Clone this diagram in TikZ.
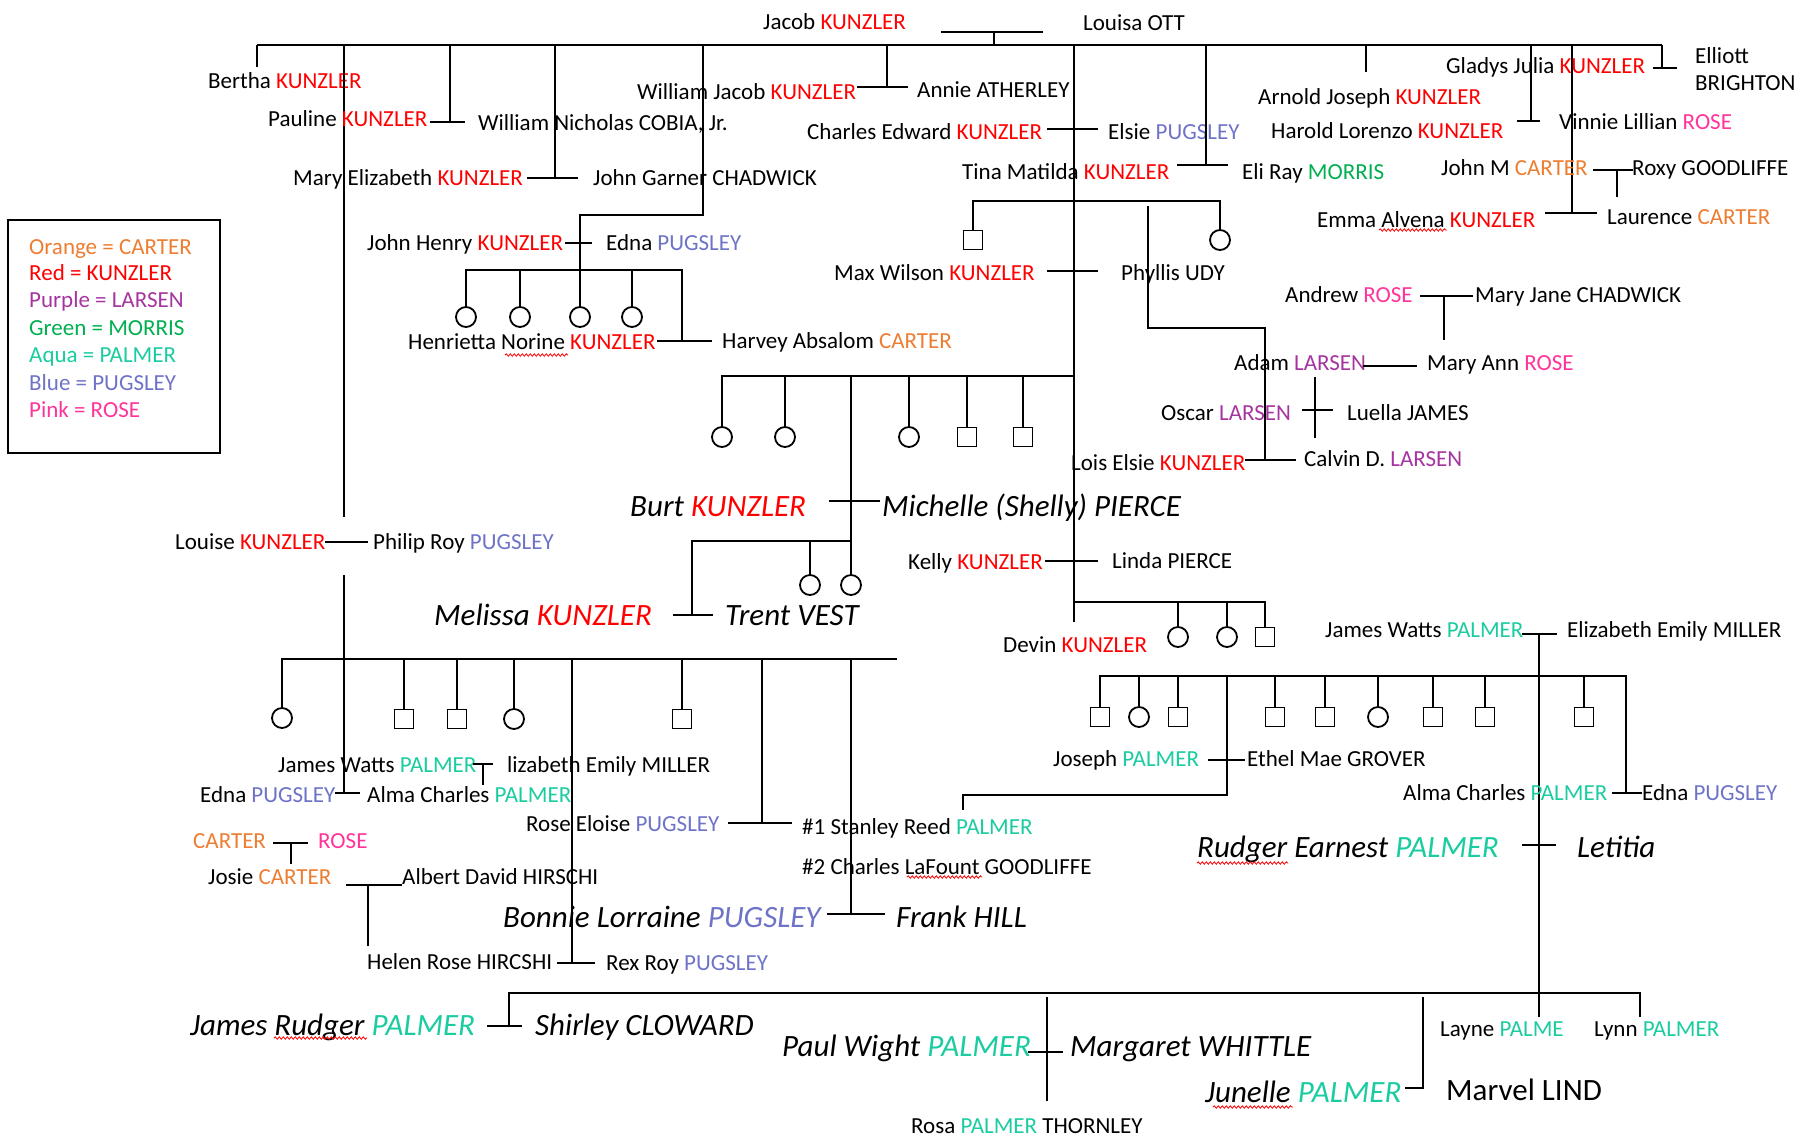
\documentclass[tikz,border=0pt]{standalone}
\usepackage{fontspec}
\setmainfont{Carlito}
\usetikzlibrary{decorations.pathmorphing}

\definecolor{kunzler}{RGB}{255,0,0}
\definecolor{carter}{RGB}{237,125,49}
\definecolor{larsen}{RGB}{166,52,160}
\definecolor{morris}{RGB}{0,176,80}
\definecolor{palmer}{RGB}{26,204,160}
\definecolor{pugsley}{RGB}{110,115,200}
\definecolor{rose}{RGB}{255,51,153}

\newcommand\KUN{\textcolor{kunzler}{KUNZLER}}
\newcommand\CAR{\textcolor{carter}{CARTER}}
\newcommand\LAR{\textcolor{larsen}{LARSEN}}
\newcommand\MOR{\textcolor{morris}{MORRIS}}
\newcommand\PAL{\textcolor{palmer}{PALMER}}
\newcommand\PUG{\textcolor{pugsley}{PUGSLEY}}
\newcommand\ROS{\textcolor{rose}{ROSE}}

\tikzset{
  person/.style={anchor=west, inner sep=0pt, font=\fontsize{23}{27}\selectfont,
    text height=14.8pt, text depth=0pt},
  bigperson/.style={person, font=\fontsize{31}{37}\selectfont\itshape, text height=20pt},
  plainbig/.style={person, font=\fontsize{31}{37}\selectfont, text height=20pt},
  girl/.style={circle, draw, line width=1.8pt, minimum size=20pt, inner sep=0pt},
  boy/.style={rectangle, draw, line width=1.8pt, minimum size=19pt, inner sep=0pt},
  tie/.style={line width=1.8pt},
  squiggle/.style={draw=red, line width=0.8pt, decorate,
    decoration={snake, amplitude=1.2pt, segment length=4pt}},
}

\begin{document}
\begin{tikzpicture}[x=1pt, y=-1pt]
\useasboundingbox (0,0) rectangle (1811,1136);

% key
\draw[tie] (8,220) rectangle (220,453);
\node[person] (keyorange) at (29,247) {\textcolor{carter}{Orange = CARTER}};
\node[person] (keyred) at (29,273) {\textcolor{kunzler}{Red = KUNZLER}};
\node[person] (keypurple) at (29,300) {\textcolor{larsen}{Purple = LARSEN}};
\node[person] (keygreen) at (29,328) {\textcolor{morris}{Green = MORRIS}};
\node[person] (keyaqua) at (29,355) {\textcolor{palmer}{Aqua = PALMER}};
\node[person] (keyblue) at (29,383) {\textcolor{pugsley}{Blue = PUGSLEY}};
\node[person] (keypink) at (29,410) {\textcolor{rose}{Pink = ROSE}};

% Jacob and Louisa
\node[person] (jacob) at (763,22) {Jacob \KUN};
\node[person] (louisa) at (1083,23) {Louisa OTT};
\draw[tie] (941,32) -- (1043,32) (994,32) -- (994,45);
\draw[tie] (257,45) -- (1662,45);

% their children
\node[person] (bertha) at (208,81) {Bertha \KUN};
\draw[tie] (257,45) -- (257,67);

\node[person] (louise) at (175,542) {Louise \KUN};
\node[person] (philip) at (373,542) {Philip Roy \PUG};
\draw[tie] (344,45) -- (344,517);
\draw[tie] (325,542) -- (368,542);
\draw[tie] (344,575) -- (344,793);

\node[person] (pauline) at (268,119) {Pauline \KUN};
\node[person] (cobia) at (478,123) {William Nicholas COBIA, Jr.};
\draw[tie] (450,45) -- (450,122) (430,122) -- (465,122);

\node[person] (maryeliz) at (293,178) {Mary Elizabeth \KUN};
\node[person] (chadwick) at (593,178) {John Garner CHADWICK};
\draw[tie] (555,45) -- (555,178) (527,178) -- (578,178);

\node[person] (johnhenry) at (367,243) {John Henry \KUN};
\node[person] (ednaA) at (606,243) {Edna \PUG};
\draw[tie] (565,243) -- (592,243);
\node[girl] (hs1) at (466,317) {};
\node[girl] (hs2) at (520,317) {};
\node[girl] (hs3) at (580,317) {};
\node[girl] (hs4) at (632,317) {};
\draw[tie] (703,45) -- (703,215) -- (580,215) -- (hs3.north);
\draw[tie] (hs1.north) -- (466,270) -- (682,270) -- (682,341);
\draw[tie] (520,270) -- (hs2.north) (632,270) -- (hs4.north);
\node[person] (henrietta) at (408,342) {Henrietta Norine \KUN};
\node[person] (harvey) at (722,341) {Harvey Absalom \CAR};
\draw[tie] (657,341) -- (712,341);

\node[person] (wjacob) at (637,92) {William Jacob \KUN};
\node[person] (annie) at (917,90) {Annie ATHERLEY};
\draw[tie] (887,45) -- (887,87) (857,87) -- (908,87);

\node[person] (charlesE) at (807,132) {Charles Edward \KUN};
\node[person] (elsie) at (1108,132) {Elsie \PUG};
\draw[tie] (1074,45) -- (1074,622);
\draw[tie] (1047,129) -- (1098,129);

\node[boy] (ms1) at (973,240) {};
\node[girl] (ms2) at (1220,240) {};
\draw[tie] (ms1.north) -- (973,201) -- (1220,201) -- (ms2.north);
\node[person] (maxw) at (834,273) {Max Wilson \KUN};
\node[person] (phyllis) at (1121,273) {Phyllis UDY};
\draw[tie] (1047,271) -- (1098,271);
\draw[tie] (1148,206) -- (1148,328) -- (1265,328) -- (1265,460);

\node[girl] (bs1) at (722,437) {};
\node[girl] (bs2) at (785,437) {};
\node[girl] (bs3) at (909,437) {};
\node[boy] (bs4) at (967,437) {};
\node[boy] (bs5) at (1023,437) {};
\draw[tie] (bs1.north) -- (722,376) -- (1074,376);
\draw[tie] (785,376) -- (bs2.north) (909,376) -- (bs3.north)
  (967,376) -- (bs4.north) (1023,376) -- (bs5.north);

\node[bigperson] (burt) at (630,506) {Burt \KUN};
\node[bigperson] (michelle) at (882,506) {Michelle (Shelly) PIERCE};
\draw[tie] (829,501) -- (880,501);
\node[girl] (ks1) at (810,585) {};
\node[girl] (ks2) at (851,585) {};
\draw[tie] (851,376) -- (ks2.north);
\draw[tie] (692,615) -- (692,541) -- (851,541) (810,541) -- (ks1.north);
\node[bigperson] (melissa) at (434,615) {Melissa \KUN};
\node[bigperson] (trent) at (725,615) {Trent VEST};
\draw[tie] (673,615) -- (713,615);

\node[person] (lois) at (1071,463) {Lois Elsie \KUN};
\node[person] (calvin) at (1304,459) {Calvin D. \LAR};
\draw[tie] (1245,460) -- (1296,460);

\node[person] (kelly) at (908,562) {Kelly \KUN};
\node[person] (linda) at (1112,561) {Linda PIERCE};
\draw[tie] (1045,561) -- (1098,561);

\node[girl] (ds1) at (1178,637) {};
\node[girl] (ds2) at (1227,637) {};
\node[boy] (ds3) at (1265,637) {};
\draw[tie] (1074,602) -- (1265,602) -- (ds3.north);
\draw[tie] (1178,602) -- (ds1.north) (1227,602) -- (ds2.north);
\node[person] (devin) at (1003,645) {Devin \KUN};

\node[person] (tina) at (962,172) {Tina Matilda \KUN};
\node[person] (eli) at (1242,172) {Eli Ray \MOR};
\draw[tie] (1206,45) -- (1206,165) (1177,165) -- (1228,165);

\node[person] (arnold) at (1258,97) {Arnold Joseph \KUN};
\draw[tie] (1366,45) -- (1366,72);

\node[person] (harold) at (1271,131) {Harold Lorenzo \KUN};
\node[person] (vinnie) at (1559,122) {Vinnie Lillian \ROS};
\draw[tie] (1531,45) -- (1531,121) (1517,121) -- (1540,121);

\node[person] (emma) at (1317,220) {Emma Alvena \KUN};
\node[person] (laurence) at (1607,217) {Laurence \CAR};
\draw[tie] (1572,45) -- (1572,213) (1545,213) -- (1597,213);
\node[person] (johnm) at (1441,168) {John M \CAR};
\node[person] (roxy) at (1632,168) {Roxy GOODLIFFE};
\draw[tie] (1593,170) -- (1633,170) (1617,170) -- (1617,197);

\node[person] (gladys) at (1446,66) {Gladys Julia \KUN};
\node[person] (elliott) at (1695,56) {Elliott};
\node[person] (brighton) at (1695,83) {BRIGHTON};
\draw[tie] (1662,45) -- (1662,68) (1653,68) -- (1677,68);

% Rose and Larsen lines
\node[person] (andrew) at (1285,295) {Andrew \ROS};
\node[person] (maryjane) at (1475,295) {Mary Jane CHADWICK};
\draw[tie] (1420,296) -- (1473,296) (1444,296) -- (1444,340);
\node[person] (adam) at (1234,363) {Adam \LAR};
\node[person] (maryann) at (1427,363) {Mary Ann \ROS};
\draw[tie] (1363,366) -- (1417,366);
\node[person] (oscar) at (1161,413) {Oscar \LAR};
\node[person] (luella) at (1347,413) {Luella JAMES};
\draw[tie] (1302,410) -- (1333,410) (1315,377) -- (1315,438);

% Louise and Philip's family
\node[girl] (lk1) at (282,718) {};
\node[boy] (lk2) at (404,719) {};
\node[boy] (lk3) at (457,719) {};
\node[girl] (lk4) at (514,719) {};
\node[boy] (lk5) at (682,719) {};
\draw[tie] (lk1.north) -- (282,659) -- (897,659);
\draw[tie] (404,659) -- (lk2.north) (457,659) -- (lk3.north)
  (514,659) -- (lk4.north) (682,659) -- (lk5.north);
\draw[tie] (572,659) -- (572,963) (762,659) -- (762,823) (851,659) -- (851,914);

\node[person] (jwattsA) at (278,765) {James Watts \PAL};
\node[person] (elizA) at (507,765) {lizabeth Emily MILLER};
\draw[tie] (473,764) -- (493,764) (483,764) -- (483,785);
\node[person] (ednaB) at (200,795) {Edna \PUG};
\node[person] (almaA) at (367,795) {Alma Charles \PAL};
\draw[tie] (335,793) -- (360,793);

\node[person] (carterX) at (193,841) {\CAR};
\node[person] (roseX) at (318,841) {\ROS};
\draw[tie] (273,843) -- (308,843) (291,843) -- (291,864);
\node[person] (josie) at (208,877) {Josie \CAR};
\node[person] (albert) at (402,877) {Albert David HIRSCHI};
\draw[tie] (346,885) -- (402,885) (368,885) -- (368,946);
\node[person] (helen) at (367,962) {Helen Rose HIRCSHI};
\node[person] (rex) at (606,963) {Rex Roy \PUG};
\draw[tie] (557,963) -- (595,963);

\node[person] (roseE) at (526,824) {Rose Eloise \PUG};
\node[person] (stanley) at (802,827) {\#1 Stanley Reed \PAL};
\draw[tie] (728,823) -- (792,823);
\node[person] (charlesL) at (802,867) {\#2 Charles LaFount GOODLIFFE};
\node[bigperson] (bonnie) at (503,917) {Bonnie Lorraine \PUG};
\node[bigperson] (frank) at (896,917) {Frank HILL};
\draw[tie] (827,914) -- (885,914);

% Palmer family
\node[person] (jwattsB) at (1325,630) {James Watts \PAL};
\node[person] (elizB) at (1567,630) {Elizabeth Emily MILLER};
\draw[tie] (1522,634) -- (1557,634) (1539,634) -- (1539,1017);
\node[boy] (pk1) at (1100,717) {};
\node[girl] (pk2) at (1139,717) {};
\node[boy] (pk3) at (1178,717) {};
\node[boy] (pk4) at (1275,717) {};
\node[boy] (pk5) at (1325,717) {};
\node[girl] (pk6) at (1378,717) {};
\node[boy] (pk7) at (1433,717) {};
\node[boy] (pk8) at (1485,717) {};
\node[boy] (pk9) at (1584,717) {};
\draw[tie] (pk1.north) -- (1100,676) -- (1626,676) -- (1626,793);
\draw[tie] (1139,676) -- (pk2.north) (1178,676) -- (pk3.north)
  (1275,676) -- (pk4.north) (1325,676) -- (pk5.north) (1378,676) -- (pk6.north)
  (1433,676) -- (pk7.north) (1485,676) -- (pk8.north) (1584,676) -- (pk9.north);
\draw[tie] (1227,676) -- (1227,795) -- (963,795) -- (963,810);

\node[person] (joseph) at (1053,759) {Joseph \PAL};
\node[person] (ethel) at (1247,759) {Ethel Mae GROVER};
\draw[tie] (1208,760) -- (1245,760);
\node[person] (almaB) at (1403,793) {Alma Charles \PAL};
\node[person] (ednaC) at (1642,793) {Edna \PUG};
\draw[tie] (1612,793) -- (1642,793);
\node[bigperson] (rudger) at (1197,847) {Rudger Earnest \PAL};
\node[bigperson] (letitia) at (1577,847) {Letitia};
\draw[tie] (1522,845) -- (1556,845);

\draw[tie] (509,1026) -- (509,993) -- (1640,993) -- (1640,1017);
\node[bigperson] (jrudger) at (190,1025) {James Rudger \PAL};
\node[bigperson] (shirley) at (535,1025) {Shirley CLOWARD};
\draw[tie] (487,1026) -- (522,1026);
\node[bigperson] (paul) at (782,1046) {Paul Wight \PAL};
\node[bigperson] (margaret) at (1070,1046) {Margaret WHITTLE};
\draw[tie] (1047,997) -- (1047,1101) (1028,1052) -- (1063,1052);
\node[person] (rosa) at (911,1126) {Rosa \PAL{} THORNLEY};
\node[bigperson] (junelle) at (1205,1092) {Junelle \PAL};
\node[plainbig] (marvel) at (1446,1090) {Marvel LIND};
\draw[tie] (1423,997) -- (1423,1088) -- (1405,1088);
\node[person] (layne) at (1440,1029) {Layne \textcolor{palmer}{PALME}};
\node[person] (lynn) at (1594,1029) {Lynn \PAL};

% spelling marks
\draw[squiggle] (505,355) -- (568,355);
\draw[squiggle] (1379,230) -- (1447,230);
\draw[squiggle] (274,1038) -- (367,1038);
\draw[squiggle] (1197,863) -- (1288,863);
\draw[squiggle] (907,877) -- (982,877);
\draw[squiggle] (1213,1107) -- (1293,1107);
\end{tikzpicture}
\end{document}
